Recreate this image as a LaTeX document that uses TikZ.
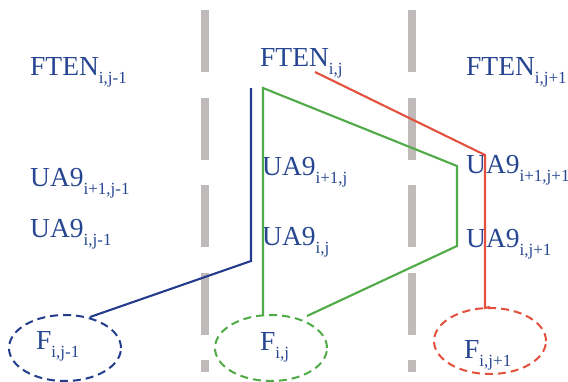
\documentclass[tikz,border=0pt]{standalone}
\usepackage{fontspec}
\setmainfont{Liberation Serif}
\usetikzlibrary{shapes.geometric}
\definecolor{txtblue}{RGB}{38,70,145}
\definecolor{lnblue}{RGB}{35,60,140}
\definecolor{lngreen}{RGB}{80,170,70}
\definecolor{lnred}{RGB}{228,80,62}
\definecolor{sepgray}{RGB}{192,186,186}
\newcommand{\lbl}[2]{#1\raisebox{-8pt}{\fontsize{17}{17}\selectfont #2}}
\tikzset{
  lab/.style={anchor=base west, inner sep=0pt, text=txtblue, font=\fontsize{27.5}{27.5}\selectfont},
  ovalnode/.style={ellipse, draw, dash pattern=on 8pt off 5pt, line width=2pt, minimum width=112pt, minimum height=66pt, inner sep=0pt},
  sepline/.style={sepgray, line width=8pt, dash pattern=on 62pt off 25.5pt},
  conn/.style={line width=2.1pt}
}
\begin{document}
\begin{tikzpicture}[x=1pt,y=-1pt]
\useasboundingbox (0,0) rectangle (568,381);
% separators
\coordinate (s1t) at (205,10); \coordinate (s1b) at (205,372);
\coordinate (s2t) at (412,10); \coordinate (s2b) at (412,372);
\draw[sepline] (s1t) -- (s1b);
\draw[sepline] (s2t) -- (s2b);
% labels
\node[lab] (f1) at (30,75) {\lbl{FTEN}{i,j-1}};
\node[lab] (f2) at (260,66) {\lbl{FTEN}{i,j}};
\node[lab] (f3) at (466,75) {\lbl{FTEN}{i,j+1}};
\node[lab] (u11) at (30,186) {\lbl{UA9}{i+1,j-1}};
\node[lab] (u12) at (30,237) {\lbl{UA9}{i,j-1}};
\node[lab] (u21) at (262,175) {\lbl{UA9}{i+1,j}};
\node[lab] (u22) at (262,245) {\lbl{UA9}{i,j}};
\node[lab] (u31) at (466,173) {\lbl{UA9}{i+1,j+1}};
\node[lab] (u32) at (466,247) {\lbl{UA9}{i,j+1}};
% ellipses
\node[ovalnode, draw=lnblue] (e1) at (65,348) {};
\node[ovalnode, draw=lngreen] (e2) at (271,348) {};
\node[ovalnode, draw=lnred] (e3) at (490,341) {};
\node[lab] (t1) at (36,349) {\lbl{F}{i,j-1}};
\node[lab] (t2) at (260,350) {\lbl{F}{i,j}};
\node[lab] (t3) at (464,358) {\lbl{F}{i,j+1}};
% blue connector
\coordinate (b0) at (251,88);
\coordinate (b1) at (251,261);
\coordinate (b2) at (90,317);
\draw[conn, lnblue] (b0) -- (b1) -- (b2);
% green connector
\coordinate (g0) at (263,316);
\coordinate (g1) at (263,88);
\coordinate (g2) at (457,166);
\coordinate (g3) at (457,246);
\coordinate (g4) at (307,316);
\draw[conn, lngreen] (g0) -- (g1) -- (g2) -- (g3) -- (g4);
% red connector
\coordinate (r0) at (315,72);
\coordinate (r1) at (485,155);
\coordinate (r2) at (485,308);
\draw[conn, lnred] (r0) -- (r1) -- (r2) -- (e3.north);
\end{tikzpicture}
\end{document}
